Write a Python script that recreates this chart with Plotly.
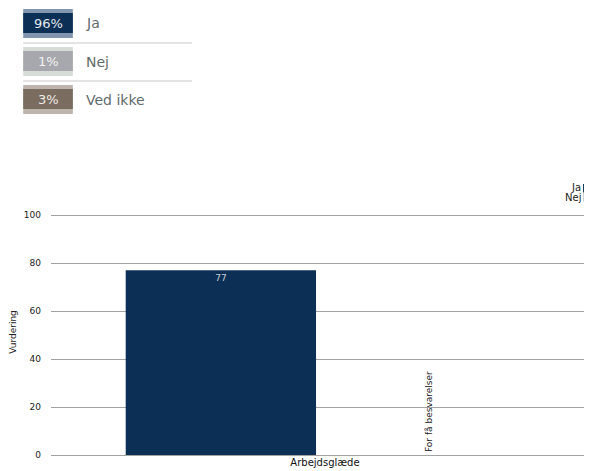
import plotly.graph_objects as go

# ---- data ----
categories = ["Arbejdsglæde"]
series_names = ["Ja", "Nej"]
ja_values = [77]
nej_values = [0]
nej_note = "For få besvarelser"
y_title = "Vurdering"
y_ticks = [0, 20, 40, 60, 80, 100]

summary_labels = ["Ja", "Nej", "Ved ikke"]
summary_pcts = [96, 1, 3]

# ---- style ----
FONT = "DejaVu Sans"
O = 8  # page body margin of the browser
Y_TOP = 102.5
W, H = 592 - O, 471 - O
L, R, B = 47 - O, 0, 16
PH = round(2.4 * Y_TOP)
T = H - B - PH
PW = W - L - R
ja_color = "#0c2f56"
nej_color = "#a6a8ad"
main_colors = ["#0c2f56", "#a6a8ad", "#7a6c5f"]
stripe_colors = ["#8196ad", "#d6ddd6", "#bdb5ad"]
pct_colors = ["#e6eaef", "#f2f2f2", "#efebe7"]


def px(x):
    # reference-picture pixel x -> paper coordinate
    return (x - O - L) / PW


def py(y):
    # reference-picture pixel y -> paper coordinate
    return (H - B - (y - O)) / PH


fig = go.Figure()
fig.add_trace(go.Bar(
    x=categories, y=ja_values, name=series_names[0],
    marker=dict(color=ja_color, line=dict(width=0)),
    text=[str(v) for v in ja_values], textposition="inside",
    insidetextanchor="end", textangle=0,
    textfont=dict(family=FONT, size=9, color="#c9cfd8"),
    showlegend=False, hoverinfo="skip",
))
fig.add_trace(go.Bar(
    x=categories, y=nej_values, name=series_names[1],
    marker=dict(color=nej_color, line=dict(width=0)),
    text=[nej_note], textposition="outside", textangle=-90,
    textfont=dict(family=FONT, size=9, color="#222222"),
    cliponaxis=False, showlegend=False, hoverinfo="skip",
))

shapes = []
annotations = []

# summary boxes at the top-left
for i, (lab, pct) in enumerate(zip(summary_labels, summary_pcts)):
    top = 9 + 38 * i
    shapes.append(dict(type="rect", xref="paper", yref="paper",
                       x0=px(19), x1=px(69), y0=py(top + 29), y1=py(top),
                       fillcolor=stripe_colors[i], line=dict(width=0), layer="above"))
    shapes.append(dict(type="rect", xref="paper", yref="paper",
                       x0=px(19), x1=px(69), y0=py(top + 24), y1=py(top + 4),
                       fillcolor=main_colors[i], line=dict(width=0), layer="above"))
    annotations.append(dict(xref="paper", yref="paper", x=px(44), y=py(top + 14.5),
                            text=f"{pct}%", showarrow=False, xanchor="center", yanchor="middle",
                            font=dict(family=FONT, size=13, color=pct_colors[i])))
    annotations.append(dict(xref="paper", yref="paper", x=px(80), y=py(top + 14.5),
                            text=lab, showarrow=False, xanchor="left", yanchor="middle",
                            font=dict(family=FONT, size=14, color="#5f6b6a")))
    if i < len(summary_labels) - 1:
        sep = top + 34
        shapes.append(dict(type="line", xref="paper", yref="paper",
                           x0=px(19), x1=px(189), y0=py(sep), y1=py(sep),
                           line=dict(color="#e3e3e3", width=2)))

# series legend at top-right (text left of swatch)
legend_colors = [ja_color, "#c8c9cc"]
for i, name in enumerate(series_names):
    yc = 188 + 9 * i
    annotations.append(dict(xref="paper", yref="paper", x=px(583), y=py(yc),
                            text=name, showarrow=False, xanchor="right", yanchor="middle",
                            font=dict(family=FONT, size=10, color="#222222")))
    shapes.append(dict(type="rect", xref="paper", yref="paper",
                       x0=px(583), x1=px(590), y0=py(yc + 4.5), y1=py(yc - 4),
                       fillcolor=legend_colors[i], line=dict(width=0)))

fig.update_layout(
    width=W, height=H,
    margin=dict(l=L, r=R, t=T, b=B, pad=0),
    paper_bgcolor="white", plot_bgcolor="white",
    barmode="group", bargap=0.24, bargroupgap=0.086,
    font=dict(family=FONT, size=9, color="#222222"),
    shapes=shapes, annotations=annotations,
    xaxis=dict(range=[-0.5, 0.4873], showgrid=False, zeroline=False, showline=False,
               ticks="", tickfont=dict(family=FONT, size=10, color="#111111"),
               fixedrange=True),
    yaxis=dict(range=[0, Y_TOP], tickvals=y_ticks, showgrid=True, gridcolor="#a3a3a3",
               gridwidth=1, zeroline=True, zerolinecolor="#a3a3a3", zerolinewidth=1,
               showline=False, ticks="", ticklabelstandoff=9,
               tickfont=dict(family=FONT, size=9, color="#222222"),
               title=dict(text=y_title, standoff=10, font=dict(family=FONT, size=9, color="#222222")),
               fixedrange=True),
)

fig.write_html("out.html", config={"displayModeBar": False})
